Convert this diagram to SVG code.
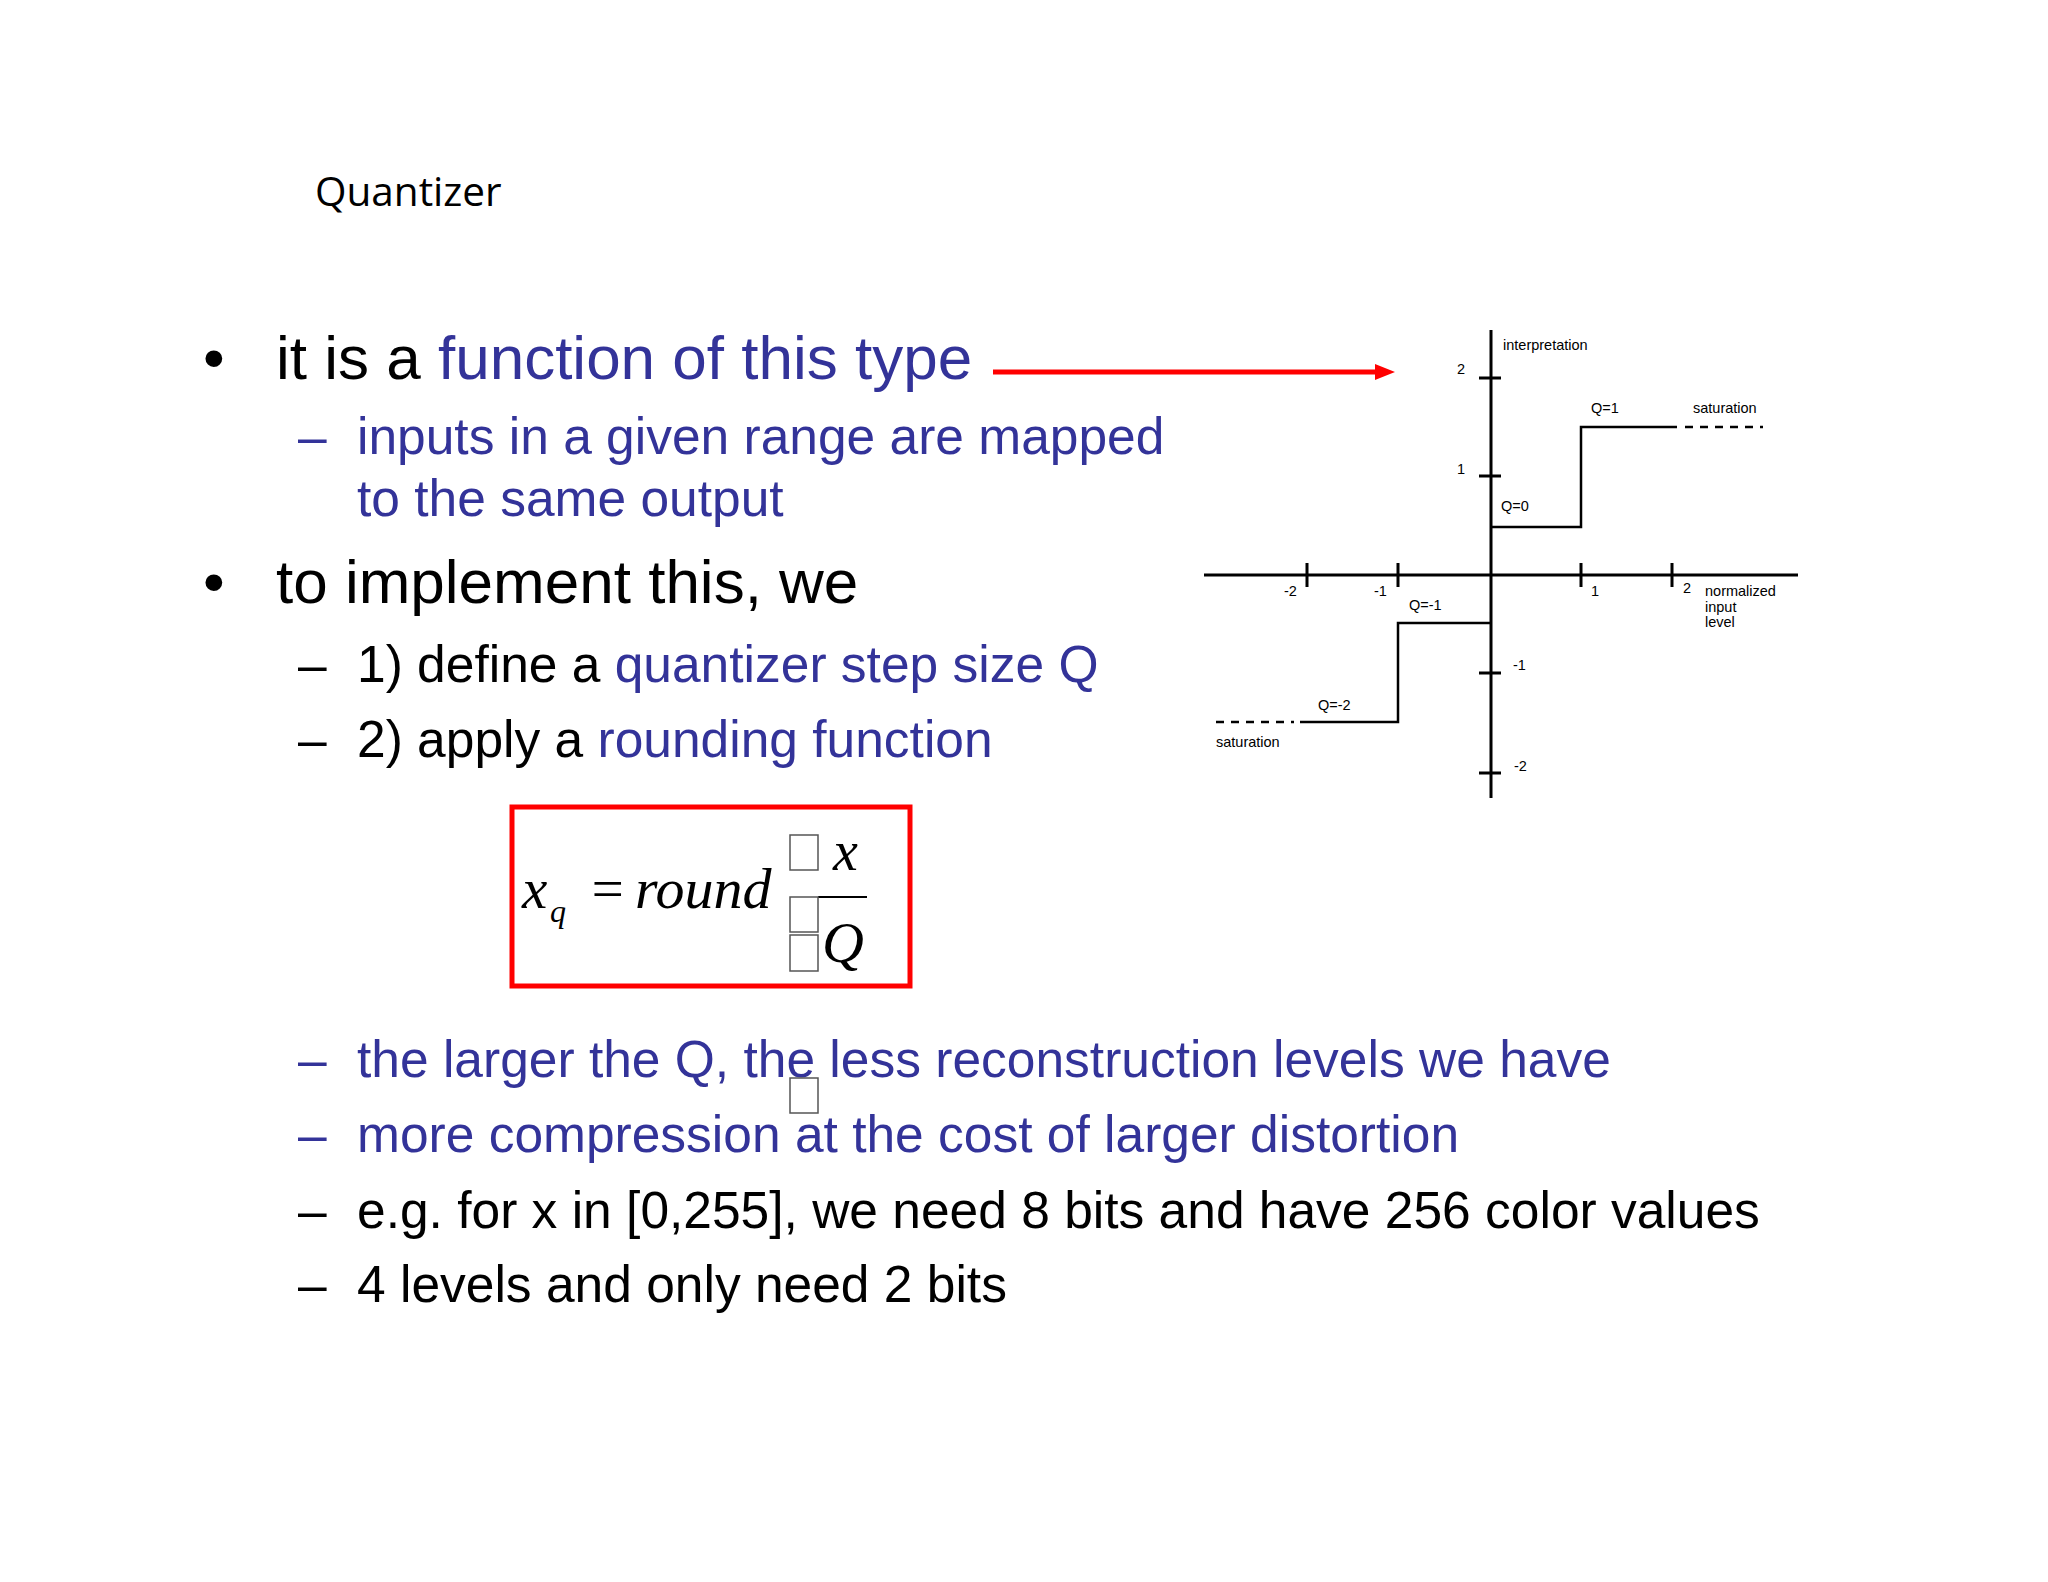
<svg xmlns="http://www.w3.org/2000/svg" width="2048" height="1582" viewBox="0 0 2048 1582">
<style>
.t{font-family:"Liberation Sans",Arial,sans-serif;fill:#000}
.b{fill:#333399}
.big{font-size:62px}
.sub{font-size:51.5px}
.g{font-family:"Liberation Sans",Arial,sans-serif;font-size:14.5px;fill:#000}
.ax{stroke:#000;stroke-width:3;fill:none}
.st{stroke:#000;stroke-width:2.5;fill:none}
.m{font-family:"Liberation Serif","Times New Roman",serif;font-style:italic;fill:#000}
.bx{fill:none;stroke:#555;stroke-width:1.5}
</style>
<rect width="2048" height="1582" fill="#fff"/>
<text x="315" y="206" font-family="Open Sans,sans-serif" font-size="40.5" fill="#000">Quantizer</text>
<g id="text">
<text class="t big" x="203" y="379">•</text>
<text class="t big" x="276" y="379">it is a <tspan class="b">function of this type</tspan></text>
<text class="t sub b" x="298" y="454">–</text>
<text class="t sub b" x="357" y="454">inputs in a given range are mapped</text>
<text class="t sub b" x="357" y="516">to the same output</text>
<text class="t big" x="203" y="603">•</text>
<text class="t big" x="276" y="603">to implement this, we</text>
<text class="t sub" x="298" y="682">–</text>
<text class="t sub" x="357" y="682">1) define a <tspan class="b">quantizer step size Q</tspan></text>
<text class="t sub" x="298" y="757">–</text>
<text class="t sub" x="357" y="757">2) apply a <tspan class="b">rounding function</tspan></text>
<text class="t sub b" x="298" y="1077">–</text>
<text class="t sub b" x="357" y="1077">the larger the Q, the less reconstruction levels we have</text>
<text class="t sub b" x="298" y="1152">–</text>
<text class="t sub b" x="357" y="1152">more compression at the cost of larger distortion</text>
<text class="t sub" x="298" y="1228">–</text>
<text class="t sub" x="357" y="1228">e.g. for x in [0,255], we need 8 bits and have 256 color values</text>
<text class="t sub" x="298" y="1302">–</text>
<text class="t sub" x="357" y="1302">4 levels and only need 2 bits</text>
</g>
<g id="formula">
<rect x="512" y="807" width="398" height="179" fill="none" stroke="#f00" stroke-width="5"/>
<text class="m" x="522" y="908" font-size="57">x</text>
<text class="m" x="550" y="922" font-size="32">q</text>
<text class="m" x="588" y="908" font-size="57" font-style="normal">=</text>
<text class="m" x="635" y="908" font-size="58">round</text>
<text class="m" x="833" y="870" font-size="56">x</text>
<line x1="818" y1="897" x2="867" y2="897" stroke="#000" stroke-width="2"/>
<text class="m" x="822" y="962" font-size="58">Q</text>
<rect class="bx" x="790" y="835" width="28" height="35"/>
<rect class="bx" x="790" y="897" width="28" height="35"/>
<rect class="bx" x="790" y="935" width="28" height="36"/>
<rect class="bx" x="790" y="1078" width="28" height="35"/>
</g>
<g id="arrow">
<line x1="993" y1="372" x2="1378" y2="372" stroke="#f00" stroke-width="5"/>
<polygon points="1375,364 1395,372 1375,380" fill="#f00"/>
</g>
<g id="graph">
<line class="ax" x1="1204" y1="575" x2="1798" y2="575"/>
<line class="ax" x1="1491" y1="330" x2="1491" y2="798"/>
<path class="ax" d="M1307 563V587M1398 563V587M1581 563V587M1672 563V587M1479 378H1501M1479 476H1501M1479 673H1501M1479 773H1501"/>
<path class="st" d="M1491 527H1581V427H1677M1491 623H1398V722H1300"/>
<path class="st" stroke-dasharray="8,7" d="M1685 427H1763M1216 722H1294"/>
<text class="g" x="1503" y="350">interpretation</text>
<text class="g" x="1457" y="374">2</text>
<text class="g" x="1457" y="474">1</text>
<text class="g" x="1591" y="413">Q=1</text>
<text class="g" x="1693" y="413">saturation</text>
<text class="g" x="1501" y="511">Q=0</text>
<text class="g" x="1284" y="596">-2</text>
<text class="g" x="1374" y="596">-1</text>
<text class="g" x="1591" y="596">1</text>
<text class="g" x="1683" y="593">2</text>
<text class="g" x="1705" y="596">normalized</text>
<text class="g" x="1705" y="612">input</text>
<text class="g" x="1705" y="627">level</text>
<text class="g" x="1409" y="610">Q=-1</text>
<text class="g" x="1513" y="670">-1</text>
<text class="g" x="1318" y="710">Q=-2</text>
<text class="g" x="1216" y="747">saturation</text>
<text class="g" x="1514" y="771">-2</text>
</g>
</svg>
